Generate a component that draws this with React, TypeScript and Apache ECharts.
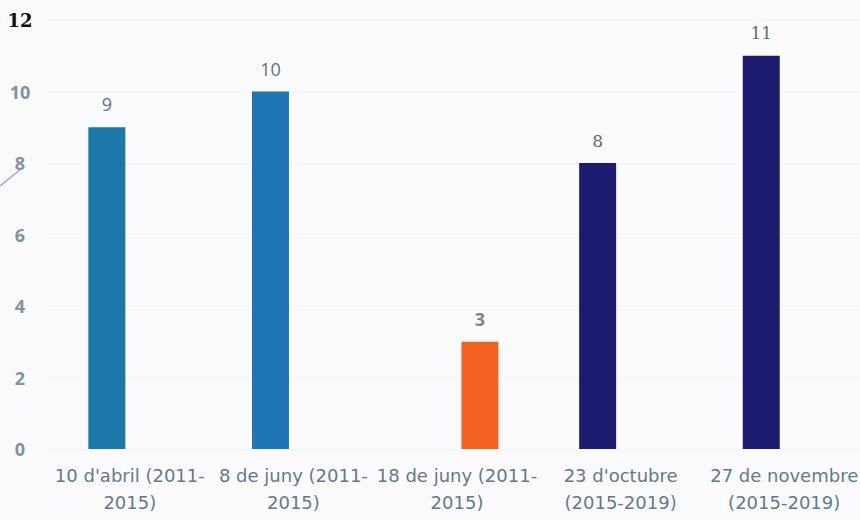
import React, { useEffect, useRef } from "react";
import * as echarts from "echarts";

const categories = [
  "10 d'abril (2011-\n2015)",
  "8 de juny (2011-\n2015)",
  "18 de juny (2011-\n2015)",
  "23 d'octubre\n(2015-2019)",
  "27 de novembre\n(2015-2019)",
];
const seriesLegislatura = [9, 10, null, 8, 11];
const seriesJuny18 = [null, null, 3, null, null];
const legislaturaColors = ["#1c78a8", "#1f76b7", "#1f76b7", "#1d1b6f", "#1d1b6f"];
const labelFonts = ["Open Sans", "Open Sans", "Open Sans", "DejaVu Serif", "DejaVu Serif"];
const yTicks = [0, 2, 4, 6, 8, 10, 12];

export default function App() {
  const ref = useRef<HTMLDivElement>(null);
  useEffect(() => {
    document.body.style.margin = "0";
    document.body.style.overflow = "hidden";
    const chart = echarts.init(ref.current!, null, { renderer: "svg" });
    const labelStyle = {
      show: true,
      position: "top" as const,
      distance: 14,
      color: "#5d7282",
      fontSize: 18,
      fontFamily: "Open Sans",
    };
    chart.setOption({
      animation: false,
      backgroundColor: "#fbfbfd",
      grid: { left: 48, right: 14, top: 20, bottom: 71, containLabel: false },
      xAxis: {
        type: "category",
        data: categories,
        axisLine: { show: false },
        axisTick: { show: false },
        axisLabel: {
          interval: 0,
          margin: 13,
          color: "#62798b",
          fontSize: 18,
          lineHeight: 27,
          fontFamily: "DejaVu Sans",
        },
      },
      yAxis: {
        type: "value",
        min: yTicks[0],
        max: yTicks[yTicks.length - 1],
        interval: 2,
        axisLine: { show: false },
        axisTick: { show: false },
        splitLine: { lineStyle: { color: "#f3f4f7", width: 1 } },
        axisLabel: {
          margin: 28,
          align: "center",
          fontSize: 18,
          fontWeight: "bold",
          fontFamily: "Open Sans",
          color: "#7f93a3",
          formatter: (v: number) => (v === 12 ? "{top|" + v + "}" : String(v)),
          rich: {
            top: { color: "#111111", fontSize: 18, fontWeight: "bold", fontFamily: "DejaVu Serif" },
          },
        },
      },
      series: [
        {
          type: "bar",
          name: "Legislatura",
          data: seriesLegislatura.map((v, i) =>
            v === null
              ? null
              : {
                  value: v,
                  itemStyle: { color: legislaturaColors[i] },
                  label: {
                    fontFamily: labelFonts[i],
                    fontSize: labelFonts[i] === "DejaVu Serif" ? 17 : 18,
                    color: labelFonts[i] === "DejaVu Serif" ? "#5f6b72" : "#5d7282",
                  },
                }
          ),
          barWidth: 37,
          barGap: "24%",
          label: labelStyle,
        },
        {
          type: "bar",
          name: "18 de juny",
          data: seriesJuny18,
          barWidth: 37,
          barGap: "24%",
          itemStyle: { color: "#f46221" },
          label: { ...labelStyle, fontWeight: "bold", color: "#77858b" },
        },
      ],
      graphic: [
        {
          type: "line",
          shape: { x1: 0, y1: 186, x2: 21, y2: 169 },
          style: { stroke: "#a79fd6", lineWidth: 1.5 },
        },
      ],
    });
    return () => chart.dispose();
  }, []);
  return <div ref={ref} style={{ width: 880, height: 520 }} />;
}
